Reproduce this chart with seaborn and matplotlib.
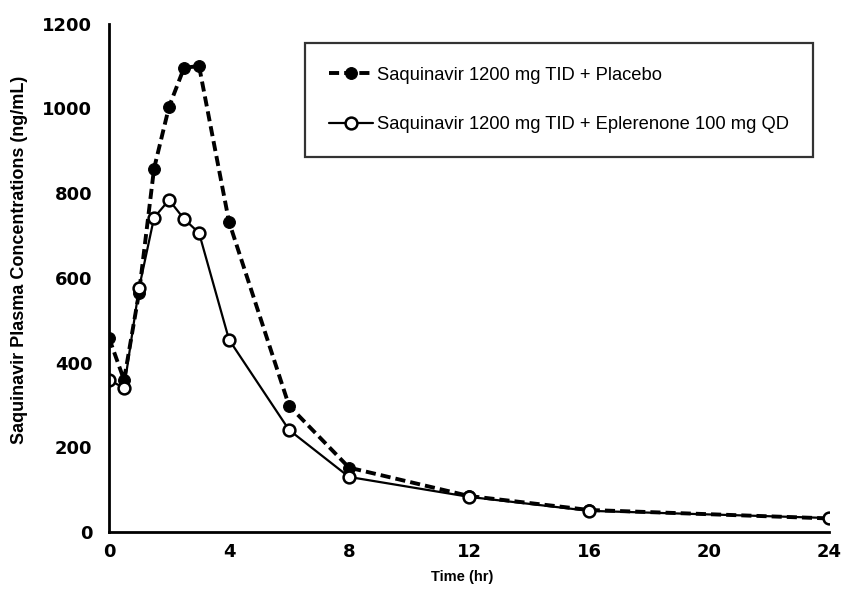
import matplotlib
matplotlib.use("Agg")
import matplotlib.pyplot as plt
import seaborn as sns
import pandas as pd

# Sampling times (hr)
time_hr = [0, 0.5, 1, 1.5, 2, 2.5, 3, 4, 6, 8, 12, 16, 24]

# Mean saquinavir plasma concentrations (ng/mL)
placebo = [458, 359, 565, 858, 1004, 1096, 1100, 732, 298, 152, 85, 52, 32]
eplerenone = [359, 340, 576, 742, 784, 739, 706, 454, 241, 130, 83, 50, 33]

label_placebo = "Saquinavir 1200 mg TID + Placebo"
label_eplerenone = "Saquinavir 1200 mg TID + Eplerenone 100 mg QD"

x_ticks = [0, 4, 8, 12, 16, 20, 24]
y_ticks = [0, 200, 400, 600, 800, 1000, 1200]

df_p = pd.DataFrame({"Time": time_hr, "Conc": placebo})
df_e = pd.DataFrame({"Time": time_hr, "Conc": eplerenone})

sns.set_style("white")
plt.rcParams["font.family"] = ["Liberation Sans", "DejaVu Sans"]
plt.rcParams["text.color"] = "black"
plt.rcParams["axes.labelcolor"] = "black"

fig = plt.figure(figsize=(8.52, 6.08), dpi=100)
ax = fig.add_axes([0.128, 0.125, 0.845, 0.836])

sns.lineplot(data=df_p, x="Time", y="Conc", ax=ax, color="black",
             linestyle=(0, (2.6, 1.3)), linewidth=2.8, marker="o",
             markersize=8.5, markerfacecolor="black", markeredgecolor="black",
             label=label_placebo)
sns.lineplot(data=df_e, x="Time", y="Conc", ax=ax, color="black",
             linestyle="-", linewidth=1.6, marker="o",
             markersize=8.5, markerfacecolor="white", markeredgecolor="black",
             markeredgewidth=1.8, label=label_eplerenone)

ax.set_xlim(0, 24)
ax.set_ylim(0, 1200)
ax.set_xticks(x_ticks)
ax.set_yticks(y_ticks)
ax.tick_params(axis="both", direction="out", length=5, width=1.5,
               colors="black")
ax.tick_params(axis="x", pad=3)
ax.tick_params(axis="y", pad=7)
for lbl in ax.get_xticklabels() + ax.get_yticklabels():
    lbl.set_fontfamily("DejaVu Sans")
    lbl.set_fontweight("bold")
    lbl.set_fontsize(13)

for side in ("top", "right"):
    ax.spines[side].set_visible(False)
for side in ("left", "bottom"):
    ax.spines[side].set_color("black")
    ax.spines[side].set_linewidth(2.0)

ax.set_xlabel("Time (hr)", fontsize=10.5, fontweight="bold", color="black")
ax.xaxis.set_label_coords(0.49, -0.075)
ax.set_ylabel("Saquinavir Plasma Concentrations (ng/mL)", fontsize=13,
              fontweight="bold", color="black")
ax.yaxis.set_label_coords(-0.113, 0.535)

leg = ax.legend(loc="upper left", bbox_to_anchor=(0.272, 0.962),
                frameon=True, fancybox=False, fontsize=13.2,
                handlelength=2.4, handletextpad=0.25, labelspacing=1.78,
                borderpad=1.3, borderaxespad=0)
leg.get_frame().set_edgecolor("black")
leg.get_frame().set_linewidth(1.6)
for t in leg.get_texts():
    t.set_color("black")

fig.savefig("out.png", dpi=100, facecolor="white")
